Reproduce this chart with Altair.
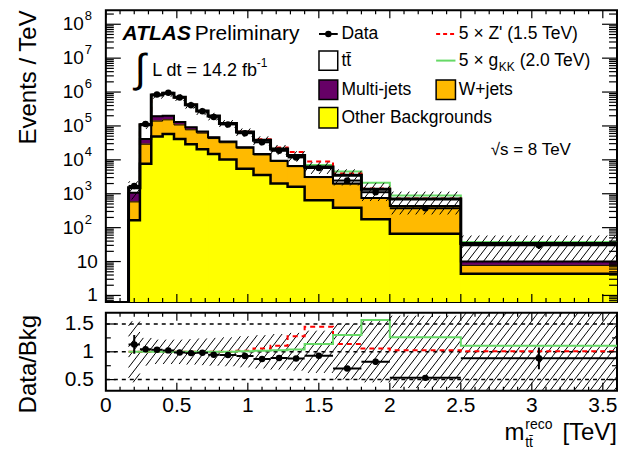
import altair as alt
import pandas as pd
import numpy as np

# ---------------- data ----------------
edges = [0.16, 0.24, 0.32, 0.40, 0.48, 0.56, 0.64, 0.72, 0.80, 0.92,
         1.04, 1.16, 1.28, 1.40, 1.60, 1.80, 2.00, 2.50, 3.60]
data_vals = [1700, 1.14e5, 8.5e5, 9.5e5, 6.9e5, 4.1e5, 2.7e5, 1.85e5, 1.11e5,
             6.1e4, 3.3e4, 1.85e4, 1.18e4, 5750, 2450, 1110, 372, 30]
data_err = [0.15, 0.01, 0.004, 0.004, 0.005, 0.006, 0.007, 0.008, 0.01,
            0.012, 0.017, 0.022, 0.028, 0.03, 0.045, 0.07, 0.08, 0.22]
ttbar = [430, 6.8e4, 6.26e5, 7.25e5, 5.7e5, 3.29e5, 2.06e5, 1.485e5, 8.35e4,
         4.25e4, 2.32e4, 1.14e4, 6850, 3100, 1500, 600, 264, 24]
multijet = [495, 1.2e4, 5.5e4, 5.0e4, 2.3e4, 1.4e4, 7000, 4000, 2500,
            1500, 800, 400, 250, 100, 50, 20, 10, 2.3]
wjets = [410, 2.13e4, 9.0e4, 9.4e4, 6.6e4, 4.8e4, 4.1e4, 2.77e4, 2.18e4,
         1.65e4, 1.04e4, 7000, 4700, 2360, 1565, 558, 360, 3.3]
other = [165, 7700, 4.9e4, 5.75e4, 4.1e4, 2.9e4, 2.06e4, 1.48e4, 1.02e4,
         5500, 3560, 2000, 1600, 640, 385, 176, 66, 4.4]
bkg_unc = [0.55, 0.25, 0.22, 0.22, 0.22, 0.23, 0.24, 0.25, 0.26,
           0.28, 0.30, 0.32, 0.34, 0.38, 0.50, 0.55, 0.65, 0.72]
zprime_ratio = [1.0, 1.0, 1.0, 1.0, 1.0, 1.0, 1.0, 1.0, 1.0,
                1.02, 1.06, 1.11, 1.28, 1.45, 1.14, 1.06, 1.03, 1.01]
gkk_ratio = [1.0, 1.0, 1.0, 1.0, 1.0, 1.0, 1.0, 1.0, 1.0,
             1.01, 1.02, 1.03, 1.04, 1.14, 1.30, 1.57, 1.26, 1.11]

x_major = [0.0, 0.5, 1.0, 1.5, 2.0, 2.5, 3.0, 3.5]
x_tick_labels = ["0", "0.5", "1", "1.5", "2", "2.5", "3", "3.5"]
y_major = [1, 10, 1e2, 1e3, 1e4, 1e5, 1e6, 1e7, 1e8]
y_exp = ["", "", "2", "3", "4", "5", "6", "7", "8"]
y_base = ["1", "10", "10", "10", "10", "10", "10", "10", "10"]
r_major = [0.5, 1.0, 1.5]
r_tick_labels = ["0.5", "1", "1.5"]
r_minor = [0.75, 1.25]

# ---------------- layout ----------------
W, H1, H2 = 512, 292, 78
XD = [0.0, 3.6]
YD = [10 ** -0.19, 10 ** 8.41]
RD = [0.3, 1.7]
FONT = "Liberation Sans"
C_PURPLE = "#660066"
C_ORANGE = "#ffba00"
C_YELLOW = "#ffff00"
C_GREEN = "#66d966"
C_RED = "#ff0000"

def lx(px):  # reference page x -> plot-relative x
    return (px - 108) * W / 518.0

def ly(py):  # reference page y -> plot-relative y (main panel)
    return (py - 5) * H1 / 300.0

lo = np.array(edges[:-1])
hi = np.array(edges[1:])
mid = (lo + hi) / 2
other_top = np.array(other, float)
w_top = other_top + np.array(wjets)
mj_top = w_top + np.array(multijet)
total = mj_top + np.array(ttbar)
data = np.array(data_vals, float)
derr = np.array(data_err)
ratio = data / total
unc = np.array(bkg_unc)

xs = alt.Scale(domain=XD, nice=False, zero=False)
ys = alt.Scale(type="log", domain=YD, nice=False)
rs = alt.Scale(domain=RD, nice=False, zero=False)
dummy = pd.DataFrame({"a": [0]})


def step_df(vals, start=None):
    xv = list(edges)
    yv = list(vals) + [vals[-1]]
    if start is not None:
        xv = [edges[0]] + xv
        yv = [start] + yv
    return pd.DataFrame({"x": xv, "y": yv, "o": list(range(len(xv)))})


def step_line(vals, scale, color, width, dash=None, start=None):
    kw = dict(interpolate="step-after", color=color, strokeWidth=width, clip=True)
    if dash:
        kw["strokeDash"] = dash
    return alt.Chart(step_df(vals, start)).mark_line(**kw).encode(
        x=alt.X("x:Q", scale=xs, axis=None),
        y=alt.Y("y:Q", scale=scale, axis=None),
        order="o:Q",
    )


def hatch(b0, b1, tf, inv, sx, sy, spacing=8.0, k=1.3):
    segs = []
    for a, b, y0, y1 in zip(lo, hi, b0, b1):
        X0, X1 = a * sx, b * sx
        Y0, Y1 = tf(y0) * sy, tf(y1) * sy
        umin = X0 - Y1 / k
        umax = X1 - Y0 / k
        for n in range(int(np.ceil(umin / spacing)), int(np.floor(umax / spacing)) + 1):
            u = n * spacing
            pa = max(X0, u + Y0 / k)
            pb = min(X1, u + Y1 / k)
            if pb - pa > 0.3:
                segs.append(dict(x=pa / sx, y=inv(k * (pa - u) / sy),
                                 x2=pb / sx, y2=inv(k * (pb - u) / sy)))
    return pd.DataFrame(segs)


def hatch_layer(df, scale):
    return alt.Chart(df).mark_rule(color="black", strokeWidth=1, clip=True).encode(
        x=alt.X("x:Q", scale=xs, axis=None), x2="x2:Q",
        y=alt.Y("y:Q", scale=scale, axis=None), y2="y2:Q")


def rect_fill(top, color):
    df = pd.DataFrame({"lo": lo, "hi": hi, "top": top})
    return alt.Chart(df).mark_rect(fill=color, stroke=color, strokeWidth=1, clip=True).encode(
        x=alt.X("lo:Q", scale=xs, axis=None), x2="hi:Q",
        y=alt.Y("top:Q", scale=ys, axis=None), y2=alt.value(H1))


def yticks(vals, scale, length, width_px):
    df = pd.DataFrame({"v": vals})
    left = alt.Chart(df).mark_rule(color="black", strokeWidth=1.2).encode(
        y=alt.Y("v:Q", scale=scale, axis=None), x=alt.value(0), x2=alt.value(length))
    right = alt.Chart(df).mark_rule(color="black", strokeWidth=1.2).encode(
        y=alt.Y("v:Q", scale=scale, axis=None), x=alt.value(width_px), x2=alt.value(width_px - length))
    return [left, right]


def xticks(vals, length, height_px):
    df = pd.DataFrame({"v": vals})
    bot = alt.Chart(df).mark_rule(color="black", strokeWidth=1.2).encode(
        x=alt.X("v:Q", scale=xs, axis=None), y=alt.value(height_px), y2=alt.value(height_px - length))
    top = alt.Chart(df).mark_rule(color="black", strokeWidth=1.2).encode(
        x=alt.X("v:Q", scale=xs, axis=None), y=alt.value(0), y2=alt.value(length))
    return [bot, top]


def text(t, x, y, size, align="left", baseline="alphabetic", angle=None, **kw):
    mk = dict(text=t, font=FONT, fontSize=size, align=align, baseline=baseline, color="black")
    if angle is not None:
        mk["angle"] = angle
    mk.update(kw)
    return alt.Chart(dummy).mark_text(**mk).encode(x=alt.value(x), y=alt.value(y))


def box(x0, x1, y0, y1, color):
    return alt.Chart(dummy).mark_rect(fill=color, stroke="black", strokeWidth=1.5).encode(
        x=alt.value(x0), x2=alt.value(x1), y=alt.value(y0), y2=alt.value(y1))


def hline(x0, x1, y, color, width, dash=None):
    kw = dict(color=color, strokeWidth=width)
    if dash:
        kw["strokeDash"] = dash
    return alt.Chart(dummy).mark_rule(**kw).encode(
        x=alt.value(x0), x2=alt.value(x1), y=alt.value(y))


# ---------------- main panel ----------------
main_layers = []
main_layers += [rect_fill(mj_top, C_PURPLE), rect_fill(w_top, C_ORANGE), rect_fill(other_top, C_YELLOW)]
main_layers.append(step_line(total * np.array(gkk_ratio), ys, C_GREEN, 2))
main_layers.append(step_line(total * np.array(zprime_ratio), ys, C_RED, 2, dash=[5, 4]))

sy_main = H1 / (np.log10(YD[1]) - np.log10(YD[0]))
hb0 = np.maximum(total * (1 - unc), YD[0])
hb1 = np.minimum(total * (1 + unc), YD[1])
main_layers.append(hatch_layer(hatch(hb0, hb1, np.log10, lambda t: 10 ** t, W / 3.6, sy_main), ys))

main_layers.append(step_line(other_top, ys, "black", 2.5, start=YD[0]))
main_layers.append(step_line(w_top, ys, "black", 1, start=YD[0]))
main_layers.append(step_line(mj_top, ys, "black", 2, start=YD[0]))
main_layers.append(step_line(total, ys, "black", 3, start=YD[0]))

dd = pd.DataFrame({"lo": lo, "hi": hi, "mid": mid, "v": data,
                   "elo": data * (1 - derr), "ehi": data * (1 + derr)})
main_layers.append(alt.Chart(dd).mark_rule(color="black", strokeWidth=2).encode(
    x=alt.X("lo:Q", scale=xs, axis=None), x2="hi:Q", y=alt.Y("v:Q", scale=ys, axis=None)))
main_layers.append(alt.Chart(dd).mark_rule(color="black", strokeWidth=2).encode(
    x=alt.X("mid:Q", scale=xs, axis=None), y=alt.Y("elo:Q", scale=ys, axis=None), y2="ehi:Q"))
main_layers.append(alt.Chart(dd).mark_point(filled=True, size=42, color="black", opacity=1).encode(
    x=alt.X("mid:Q", scale=xs, axis=None), y=alt.Y("v:Q", scale=ys, axis=None)))

y_minor = [k * 10.0 ** d for d in range(-1, 9) for k in range(2, 10) if YD[0] < k * 10.0 ** d < YD[1]]
x_minor = [round(0.1 * i, 1) for i in range(1, 36) if i % 5]
main_layers += yticks(y_major, ys, 15, W)
main_layers += yticks(y_minor, ys, 8, W)
main_layers += xticks(x_major, 8, H1)
main_layers += xticks(x_minor, 4, H1)

# y tick labels with superscript exponents
ylab = pd.DataFrame({"v": y_major, "base": y_base, "exp": y_exp})
small = ylab[ylab["exp"] == ""]
big = ylab[ylab["exp"] != ""]
main_layers.append(alt.Chart(small).mark_text(font=FONT, fontSize=19, align="right", baseline="middle").encode(
    y=alt.Y("v:Q", scale=ys, axis=None), x=alt.value(-8), text="base:N"))
main_layers.append(alt.Chart(big).mark_text(font=FONT, fontSize=19, align="right", baseline="middle").encode(
    y=alt.Y("v:Q", scale=ys, axis=None), x=alt.value(-22), text="base:N"))
main_layers.append(alt.Chart(big).mark_text(font=FONT, fontSize=13, align="left", baseline="middle", dy=-8).encode(
    y=alt.Y("v:Q", scale=ys, axis=None), x=alt.value(-21), text="exp:N"))

# axis title
main_layers.append(text("Events / TeV", lx(30), 0, 24, align="right", baseline="middle", angle=270))
# invisible left anchor
main_layers.append(alt.Chart(dummy).mark_rule(color="white", strokeWidth=1).encode(
    x=alt.value(-96), x2=alt.value(-96), y=alt.value(100), y2=alt.value(110)))

# ATLAS label
main_layers.append(text("ATLAS", lx(125), ly(35), 21, fontStyle="italic", fontWeight="bold"))
main_layers.append(text("Preliminary", lx(198), ly(35), 21))
main_layers.append(text("\u222b", lx(143), ly(66), 40, align="center", baseline="middle"))
main_layers.append(text("L dt = 14.2 fb", lx(155), ly(73), 18))
main_layers.append(text("-1", lx(261), ly(63), 12))
main_layers.append(text("\u221as = 8 TeV", lx(498), ly(149), 17, baseline="middle"))

# legend
LS = 17.5
bx0, bx1 = lx(324), lx(343)
cx0, cx1 = lx(442.7), lx(462.3)
tx1, tx2 = lx(346.7), lx(465.7)
main_layers.append(hline(bx0, bx1, ly(29.3), "black", 2))
main_layers.append(alt.Chart(dummy).mark_point(filled=True, size=42, color="black", opacity=1).encode(
    x=alt.value((bx0 + bx1) / 2), y=alt.value(ly(29.3))))
main_layers.append(text("Data", tx1, ly(29.3), LS, baseline="middle"))
main_layers.append(box(bx0, bx1, ly(46.7), ly(66.7), "white"))
main_layers.append(text("tt\u0304", tx1, ly(57), LS, baseline="middle"))
main_layers.append(box(bx0, bx1, ly(76.7), ly(96.7), C_PURPLE))
main_layers.append(text("Multi-jets", tx1, ly(86.7), LS, baseline="middle"))
main_layers.append(box(bx0, bx1, ly(105), ly(126), C_YELLOW))
main_layers.append(text("Other Backgrounds", tx1, ly(115.5), LS, baseline="middle"))
main_layers.append(hline(cx0, cx1, ly(29.3), C_RED, 2, dash=[4, 3]))
main_layers.append(text("5 \u00d7 Z' (1.5 TeV)", tx2, ly(29.3), LS, baseline="middle"))
main_layers.append(hline(cx0, cx1, ly(56.7), C_GREEN, 2))
main_layers.append(text("5 \u00d7 g", tx2, ly(56.7), LS, baseline="middle"))
main_layers.append(text("KK", tx2 + 40, ly(56.7) + 6, 12, baseline="middle"))
main_layers.append(text("(2.0 TeV)", tx2 + 61, ly(56.7), LS, baseline="middle"))
main_layers.append(box(cx0, cx1, ly(76.7), ly(96.7), C_ORANGE))
main_layers.append(text("W+jets", tx2, ly(86.7), LS, baseline="middle"))

main = alt.layer(*main_layers).properties(width=W, height=H1)

# ---------------- ratio panel ----------------
r_layers = []
sy_r = H2 / (RD[1] - RD[0])
rb0 = np.maximum(1 - unc, RD[0])
rb1 = np.minimum(1 + unc, RD[1])
r_layers.append(hatch_layer(hatch(rb0, rb1, lambda t: t, lambda t: t, W / 3.6, sy_r), rs))
r_layers.append(alt.Chart(pd.DataFrame({"v": r_major})).mark_rule(
    color="black", strokeWidth=1.5, strokeDash=[4, 4]).encode(
    y=alt.Y("v:Q", scale=rs, axis=None), x=alt.value(0), x2=alt.value(W)))
r_layers.append(step_line(zprime_ratio, rs, C_RED, 2, dash=[5, 4]))
r_layers.append(step_line(gkk_ratio, rs, C_GREEN, 2))

rd = pd.DataFrame({"lo": lo, "hi": hi, "mid": mid, "r": ratio,
                   "elo": ratio * (1 - derr), "ehi": ratio * (1 + derr)})
r_layers.append(alt.Chart(rd).mark_rule(color="black", strokeWidth=2, clip=True).encode(
    x=alt.X("lo:Q", scale=xs, axis=None), x2="hi:Q", y=alt.Y("r:Q", scale=rs, axis=None)))
r_layers.append(alt.Chart(rd).mark_rule(color="black", strokeWidth=2, clip=True).encode(
    x=alt.X("mid:Q", scale=xs, axis=None), y=alt.Y("elo:Q", scale=rs, axis=None), y2="ehi:Q"))
r_layers.append(alt.Chart(rd).mark_point(filled=True, size=42, color="black", opacity=1).encode(
    x=alt.X("mid:Q", scale=xs, axis=None), y=alt.Y("r:Q", scale=rs, axis=None)))

r_layers += yticks(r_major, rs, 10, W)
r_layers += yticks(r_minor, rs, 5, W)
r_layers += xticks(x_major, 8, H2)
r_layers += xticks(x_minor, 4, H2)

r_layers.append(alt.Chart(pd.DataFrame({"v": r_major, "t": r_tick_labels})).mark_text(
    font=FONT, fontSize=21, align="right", baseline="middle").encode(
    y=alt.Y("v:Q", scale=rs, axis=None), x=alt.value(-12), text="t:N"))
r_layers.append(alt.Chart(pd.DataFrame({"v": x_major, "t": x_tick_labels})).mark_text(
    font=FONT, fontSize=21, align="center", baseline="middle").encode(
    x=alt.X("v:Q", scale=xs, axis=None), y=alt.value(H2 + 15), text="t:N"))

r_layers.append(text("Data/Bkg", lx(30), 2, 24, align="right", baseline="middle", angle=270))
r_layers.append(text("m", lx(512), H2 + 49, 24))
r_layers.append(text("reco", lx(533), H2 + 38, 14))
r_layers.append(text("tt\u0304", lx(533), H2 + 56, 14))
r_layers.append(text("[TeV]", W, H2 + 49, 24, align="right"))

ratio_panel = alt.layer(*r_layers).properties(width=W, height=H2)

chart = alt.vconcat(main, ratio_panel, spacing=4).properties(
    padding={"left": 0, "top": 0, "right": 0, "bottom": 0}
).configure_view(stroke="black", strokeWidth=2)

chart.save("out.html", embed_options={"renderer": "svg", "actions": False})
